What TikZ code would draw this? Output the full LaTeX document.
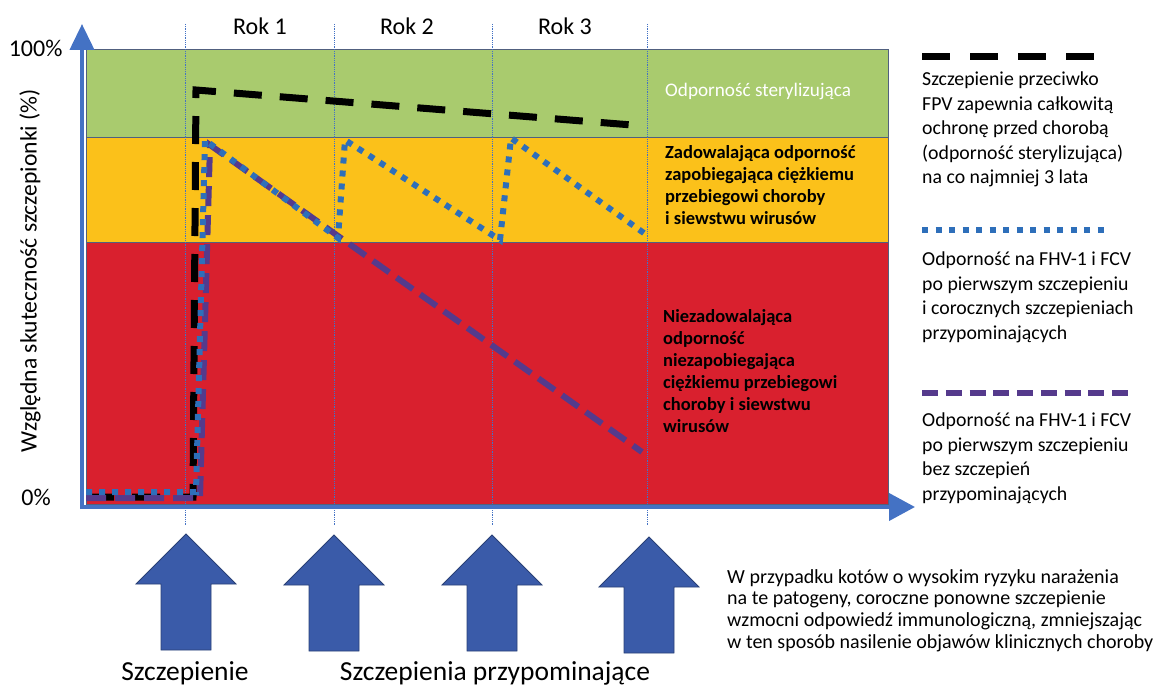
\documentclass[tikz,border=0pt]{standalone}
\usepackage{fontspec}
\setmainfont{Carlito}
\usetikzlibrary{arrows.meta}
\definecolor{bandgreen}{HTML}{A9CB6E}
\definecolor{bandyellow}{HTML}{FBC11A}
\definecolor{bandred}{HTML}{D9202E}
\definecolor{bandedge}{HTML}{51607F}
\definecolor{axisblue}{HTML}{4472C4}
\definecolor{boostblue}{HTML}{3A5BA9}
\definecolor{herpesblue}{HTML}{2E6FBA}
\definecolor{herpespurple}{HTML}{553A8C}

\begin{document}
\begin{tikzpicture}[x=1pt,y=-1pt,
	fpvline/.style={line width=7pt,dash pattern=on 28pt off 18pt},
	boostedline/.style={herpesblue,line width=6pt,dash pattern=on 6pt off 7pt},
	singleline/.style={herpespurple,line width=6pt,dash pattern=on 20pt off 9pt},
	guide/.style={axisblue,densely dotted,line width=0.8pt},
	boostarrow/.style={fill=boostblue,draw=boostblue!70!black,line width=0.8pt},
	axisline/.style={axisblue,line width=4pt},
	legendtext/.style={anchor=north west,inner sep=0pt,align=left,font=\fontsize{19.8}{24.5}\selectfont},
	bandtext/.style={anchor=north west,inner sep=0pt,align=left,font=\bfseries\fontsize{18.5}{22}\selectfont}]
	\useasboundingbox (0,0) rectangle (1161,687);
	\fill[bandgreen] (86,50) rectangle (888,137);
	\fill[bandyellow] (86,137) rectangle (888,242);
	\fill[bandred] (86,242) rectangle (888,504);
	\draw[bandedge,line width=1pt] (86,50) rectangle (888,504);
	\draw[bandedge,line width=0.8pt] (86,137) -- (888,137) (86,242) -- (888,242);
	\foreach \x in {185,334,492,647}
		\draw[guide] (\x,24) -- (\x,525);
	\draw[axisline,-{Triangle[width=24pt,length=26pt]}] (82,509) -- (82,24);
	\draw[axisline,-{Triangle[width=27pt,length=26pt]}] (80,507) -- (915,507);
	\node[anchor=base east,font=\fontsize{24}{28}\selectfont] (top) at (66,57) {100\%};
	\node[anchor=base,font=\fontsize{24}{28}\selectfont] (zero) at (36,505) {0\%};
	\node[rotate=90,font=\fontsize{23.6}{28}\selectfont] (ylabel) at (30,271) {Względna skuteczność szczepionki (\%)};
	\node[anchor=base,font=\fontsize{24}{28}\selectfont] (rok1) at (260,35) {Rok 1};
	\node[anchor=base,font=\fontsize{24}{28}\selectfont] (rok2) at (407,35) {Rok 2};
	\node[anchor=base,font=\fontsize{24}{28}\selectfont] (rok3) at (565,35) {Rok 3};
	\draw[fpvline] (86,497) -- (193,497) -- (196,90) -- (632,125);
	\draw[singleline] (86,498) -- (200,498) -- (210,145) -- (642,452);
	\draw[boostedline] (86,492) -- (196,492) -- (205,140) -- (338,238) -- (345,140) -- (500,240) -- (511,138) -- (648,236);
	\node[anchor=base west,inner sep=0pt,white,font=\fontsize{19.2}{22}\selectfont] (sterile) at (665,97) {Odporność sterylizująca};
	\node[bandtext] (enough) at (665,145) {Zadowalająca odporność\\zapobiegająca ciężkiemu\\przebiegowi choroby\\i siewstwu wirusów};
	\node[bandtext] (poor) at (663,309) {Niezadowalająca\\odporność\\niezapobiegająca\\ciężkiemu przebiegowi\\choroby i siewstwu\\wirusów};
	\draw[fpvline,dash pattern=on 28pt off 20pt] (922,57) -- (1094,57);
	\node[legendtext] (fpvtext) at (922,72) {Szczepienie przeciwko\\FPV zapewnia całkowitą\\ochronę przed chorobą\\(odporność sterylizująca)\\na co najmniej 3 lata};
	\draw[boostedline,dash pattern=on 6pt off 7.5pt] (922,230) -- (1108,230);
	\node[legendtext] (boostedtext) at (922,252) {Odporność na FHV-1 i FCV\\po pierwszym szczepieniu\\i corocznych szczepieniach\\przypominających};
	\draw[singleline,dash pattern=on 16pt off 7.75pt] (922,393) -- (1128,393);
	\node[legendtext] (singletext) at (922,413) {Odporność na FHV-1 i FCV\\po pierwszym szczepieniu\\bez szczepień\\przypominających};
	\foreach \x/\y in {186/534,334/535,492/535,649/537}
		\draw[boostarrow] (\x,\y) -- (\x+50,\y+50) -- (\x+25,\y+50) -- (\x+25,\y+116) -- (\x-25,\y+116) -- (\x-25,\y+50) -- (\x-50,\y+50) -- cycle;
	\node[anchor=base,font=\fontsize{27.5}{32}\selectfont] (first) at (185,680) {Szczepienie};
	\node[anchor=base,font=\fontsize{27.5}{32}\selectfont] (boosters) at (495,680) {Szczepienia przypominające};
	\node[anchor=north west,inner sep=0pt,align=left,font=\fontsize{20}{21.7}\selectfont] (note) at (727,569) {W przypadku kotów o wysokim ryzyku narażenia\\na te patogeny, coroczne ponowne szczepienie\\wzmocni odpowiedź immunologiczną, zmniejszając\\w ten sposób nasilenie objawów klinicznych choroby};
\end{tikzpicture}
\end{document}
